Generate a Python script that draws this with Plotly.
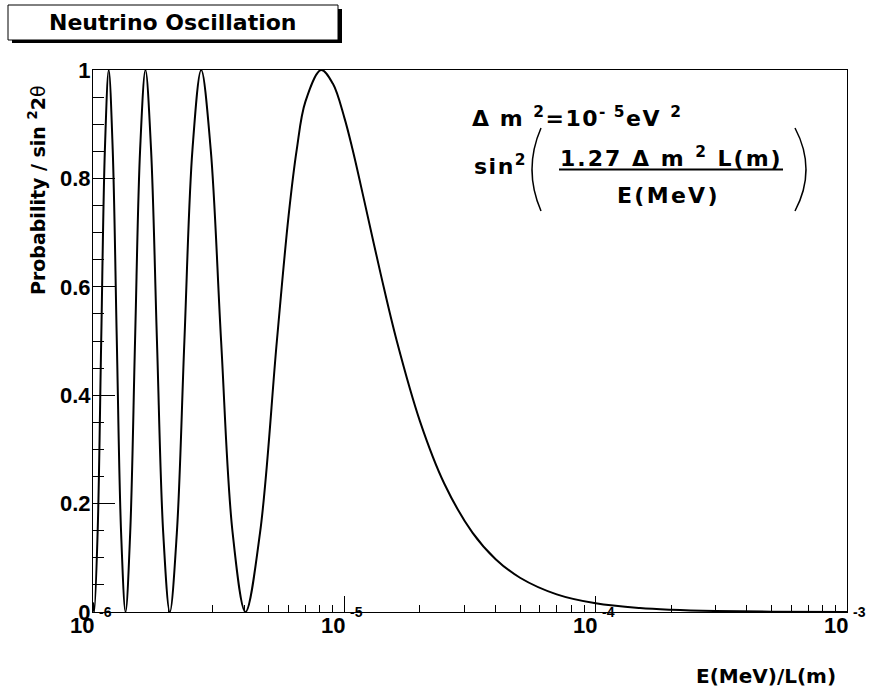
import numpy as np
import plotly.graph_objects as go

# ---- data ----
x_vals = [1.0e-6, 1.0106e-6, 1.0432e-6, 1.0780e-6, 1.1152e-6, 1.1550e-6, 1.1978e-6, 1.2438e-6,
          1.2936e-6, 1.3475e-6, 1.4061e-6, 1.4700e-6, 1.5400e-6, 1.6170e-6, 1.7021e-6, 1.7967e-6,
          1.9024e-6, 2.0213e-6, 2.1560e-6, 2.3100e-6, 2.4877e-6, 2.6950e-6, 2.9400e-6, 3.2340e-6,
          3.5933e-6, 4.0425e-6, 4.6200e-6, 5.3900e-6, 6.0e-6, 6.4680e-6, 7.0e-6, 8.0850e-6,
          9.0e-6, 1.0e-5, 1.0780e-5, 1.2e-5, 1.4e-5, 1.6170e-5, 2.0e-5, 2.5e-5,
          3.2340e-5, 4.0e-5, 5.0e-5, 7.0e-5, 1.0e-4, 1.5e-4, 2.0e-4, 3.0e-4, 5.0e-4, 1.0e-3]
prob = [0.0177, 0.0, 0.1464, 0.5, 0.8536, 1.0, 0.8536, 0.5,
        0.1464, 0.0, 0.1464, 0.5, 0.8536, 1.0, 0.8536, 0.5,
        0.1464, 0.0, 0.1464, 0.5, 0.8536, 1.0, 0.8536, 0.5,
        0.1464, 0.0, 0.1464, 0.5, 0.7309, 0.8536, 0.9417, 1.0,
        0.9749, 0.9122, 0.8536, 0.759, 0.6206, 0.5, 0.3518, 0.2367,
        0.1464, 0.0975, 0.0632, 0.03255, 0.01604, 0.00716, 0.00403, 0.00179, 0.000645, 0.000161]

x_tick_vals = [1e-6, 1e-5, 1e-4, 1e-3]
x_tick_base = ["10", "10", "10", "10"]
x_tick_exp = ["-6", "-5", "-4", "-3"]
x_minor_vals = [m * 10.0 ** e for e in (-6, -5, -4) for m in range(2, 10)]
y_tick_vals = [0, 0.2, 0.4, 0.6, 0.8, 1.0]
y_tick_text = ["0", "0.2", "0.4", "0.6", "0.8", "1"]

FONT = "Liberation Sans"
WIDE = "DejaVu Sans"
W, H = 871, 690
L, R, T, B = 93, 24, 70, 78
PW, PH = W - L - R, H - T - B


def px(x):
    return (x - L) / PW


def py(y):
    return (H - B - y) / PH


def spaced(s, sp):
    return "<span style='letter-spacing:{}px'>{}</span>".format(sp, s)


fig = go.Figure()
fig.add_trace(go.Scatter(x=x_vals, y=prob, mode="lines",
                         line=dict(color="black", width=2, shape="spline", smoothing=1.0),
                         showlegend=False, hoverinfo="skip"))

fig.update_layout(
    width=W, height=H,
    margin=dict(l=L, r=R, t=T, b=B, pad=0),
    paper_bgcolor="white", plot_bgcolor="white",
    xaxis=dict(type="log", range=[-6, -3], showgrid=False, zeroline=False,
               showline=True, linecolor="black", linewidth=1, mirror=True,
               tickvals=x_tick_vals, ticks="inside", ticklen=16, tickcolor="black", tickwidth=1,
               showticklabels=False,
               minor=dict(tickvals=x_minor_vals, ticks="inside", ticklen=7,
                          tickcolor="black", tickwidth=1, showgrid=False)),
    yaxis=dict(range=[0, 1], showgrid=False, zeroline=False,
               showline=True, linecolor="black", linewidth=1, mirror=True,
               tickvals=y_tick_vals, ticktext=y_tick_text,
               ticks="inside", ticklen=22, tickcolor="black", tickwidth=1,
               ticklabelstandoff=-3,
               tickfont=dict(family=FONT, size=22, color="black", weight="bold"),
               minor=dict(dtick=0.05, ticks="inside", ticklen=11,
                          tickcolor="black", tickwidth=1, showgrid=False)),
)

shapes = []
# title box with shadow
shapes.append(dict(type="rect", xref="paper", yref="paper",
                   x0=px(12), x1=px(342), y0=py(43), y1=py(9),
                   fillcolor="black", line=dict(width=0), layer="above"))
shapes.append(dict(type="rect", xref="paper", yref="paper",
                   x0=px(8), x1=px(338), y0=py(40), y1=py(5),
                   fillcolor="white", line=dict(color="black", width=1), layer="above"))
# fraction bar
shapes.append(dict(type="line", xref="paper", yref="paper",
                   x0=px(559), x1=px(783), y0=py(169.5), y1=py(169.5),
                   line=dict(color="black", width=2)))


def paren(xt, xm, yt, yb):
    ym = (yt + yb) / 2
    xc = 2 * xm - xt
    return ("M {},{} Q {},{} {},{}".format(px(xt), py(yt), px(xc), py(ym), px(xt), py(yb)))


shapes.append(dict(type="path", xref="paper", yref="paper", path=paren(541, 532, 128, 211),
                   line=dict(color="black", width=1.5)))
shapes.append(dict(type="path", xref="paper", yref="paper", path=paren(795, 806, 128, 211),
                   line=dict(color="black", width=1.5)))
fig.update_layout(shapes=shapes)

ann = []
bold = dict(color="black", weight="bold")
ann.append(dict(text="Neutrino Oscillation", x=px(172), y=py(22), xref="paper", yref="paper",
                showarrow=False, xanchor="center", yanchor="middle",
                font=dict(family=WIDE, size=22, **bold)))
ann.append(dict(text="Probability / sin <sup>2</sup>2<span style='font-weight:normal'>θ</span>",
                x=px(37), y=py(190), xref="paper", yref="paper", textangle=-90,
                showarrow=False, xanchor="center", yanchor="middle",
                font=dict(family=WIDE, size=19, **bold)))
ann.append(dict(text="E(MeV)/L(m)", x=px(838), y=py(676), xref="paper", yref="paper",
                showarrow=False, xanchor="right", yanchor="middle",
                font=dict(family=WIDE, size=20, **bold)))
ann.append(dict(text=spaced("Δ m <sup>2</sup>=10<sup>- 5</sup>eV <sup>2</sup>", 1.5),
                x=px(470), y=py(117),
                xref="paper", yref="paper", showarrow=False, xanchor="left", yanchor="middle",
                font=dict(family=WIDE, size=22, **bold)))
ann.append(dict(text=spaced("sin<sup>2</sup>", 1.5), x=px(472), y=py(165), xref="paper", yref="paper",
                showarrow=False, xanchor="left", yanchor="middle",
                font=dict(family=WIDE, size=22, **bold)))
ann.append(dict(text=spaced("1.27 Δ m <sup>2</sup> L(m)", 2), x=px(671), y=py(157),
                xref="paper", yref="paper",
                showarrow=False, xanchor="center", yanchor="middle",
                font=dict(family=WIDE, size=22, **bold)))
ann.append(dict(text=spaced("E(MeV)", 2.3), x=px(668), y=py(195), xref="paper", yref="paper",
                showarrow=False, xanchor="center", yanchor="middle",
                font=dict(family=WIDE, size=22, **bold)))

for v, b, e in zip(x_tick_vals, x_tick_base, x_tick_exp):
    ann.append(dict(text=b, x=np.log10(v), y=py(625.5), xref="x", yref="paper",
                    xshift=3, showarrow=False, xanchor="right", yanchor="middle",
                    font=dict(family=FONT, size=22, **bold)))
    ann.append(dict(text=e, x=np.log10(v), y=py(612), xref="x", yref="paper",
                    xshift=4, showarrow=False, xanchor="left", yanchor="middle",
                    font=dict(family=FONT, size=14, **bold)))
fig.update_layout(annotations=ann)

fig.write_html("out.html")
